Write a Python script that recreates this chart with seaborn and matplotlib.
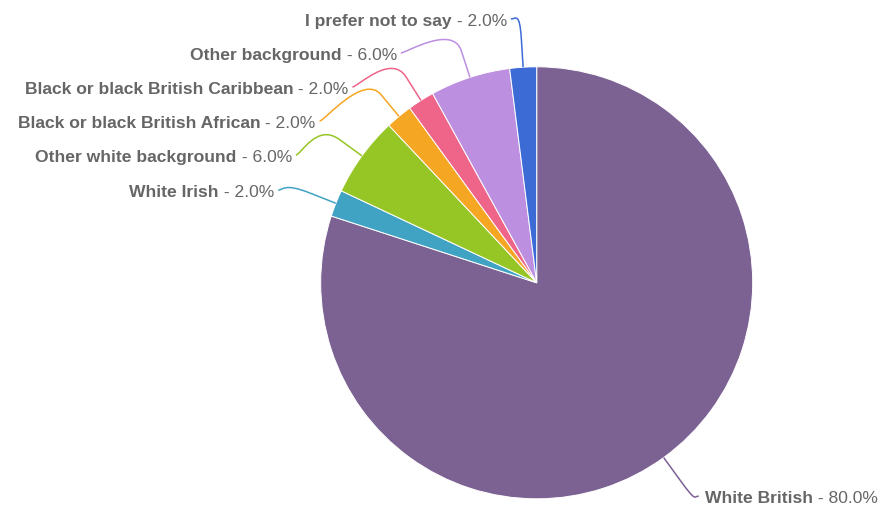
import numpy as np
import matplotlib.pyplot as plt
import seaborn as sns
from matplotlib.path import Path
from matplotlib.patches import PathPatch

categories = ["White British", "White Irish", "Other white background",
              "Black or black British African", "Black or black British Caribbean",
              "Other background", "I prefer not to say"]
shares = [80.0, 2.0, 6.0, 2.0, 2.0, 6.0, 2.0]
slice_colors = ["#7c6193", "#41a3c3", "#95c626", "#f5a623",
                "#ee6589", "#bc8fe0", "#3d6bd6"]

sns.set_theme(style="white")
plt.rcParams["font.family"] = ["Liberation Sans", "DejaVu Sans"]

fig = plt.figure(figsize=(8.9, 5.1), dpi=100)
ax = fig.add_axes([0, 0, 1, 1])

# pie geometry in pixel units (y axis points down)
cx, cy, r = 536.7, 283.8, 216
wedges, _ = ax.pie(shares, colors=sns.color_palette(slice_colors),
                   center=(cx, cy), radius=r, startangle=-90, counterclock=True,
                   wedgeprops=dict(edgecolor="white", linewidth=0.7))
ax.set_xlim(0, 890)
ax.set_ylim(510, 0)
ax.set_aspect("equal")
ax.axis("off")

renderer = fig.canvas.get_renderer()
text_color = "#666666"
fs = 12.6
row = 34          # vertical room per label
r_nat = r + 44    # where labels would like to sit
r_lab = 280       # labels keep their outer corner on this circle
r_break = r + 28  # connector bend


def distribute(targets, lo=0, hi=520):
    # stack labels with no overlap, clusters centred on their targets
    order = np.argsort(targets)
    groups = [[i] for i in order]
    merged = True
    tops = []
    while merged:
        merged = False
        tops = [np.mean([targets[i] for i in g]) - len(g) * row / 2 for g in groups]
        for k in range(len(groups) - 1):
            if tops[k] + len(groups[k]) * row > tops[k + 1]:
                groups[k] = groups[k] + groups.pop(k + 1)
                merged = True
                break
    out = {}
    for g, t in zip(groups, tops):
        t = min(max(t, lo), hi - len(g) * row)
        for j, i in enumerate(g):
            out[i] = t + j * row + row / 2 + 3
    return out


mids = [np.deg2rad((w.theta1 + w.theta2) / 2) for w in wedges]
sides = {"left": [], "right": []}
for i, a in enumerate(mids):
    sides["left" if np.cos(a) < 0 else "right"].append(i)

for side, idx in sides.items():
    sgn = -1 if side == "left" else 1
    targets = [cy + r_nat * np.sin(mids[i]) for i in idx]
    ys = distribute(targets)
    for k, i in enumerate(idx):
        a = mids[i]
        y = ys[k]
        y_corner = y - 15 if y < cy else y + 15
        dx = np.sqrt(max(r_lab ** 2 - (y_corner - cy) ** 2, 0))
        lx = cx + sgn * dx

        # soft connector: label -> bend point -> slice edge
        touch = (cx + r * np.cos(a), cy + r * np.sin(a))
        brk = (cx + r_break * np.cos(a), cy + r_break * np.sin(a))
        verts = [(lx, y), (lx - 5 * sgn, y),
                 (2 * brk[0] - touch[0], 2 * brk[1] - touch[1]), brk, touch]
        codes = [Path.MOVETO, Path.CURVE4, Path.CURVE4, Path.CURVE4, Path.LINETO]
        ax.add_patch(PathPatch(Path(verts, codes), fill=False,
                               edgecolor=slice_colors[i], linewidth=1.1))

        pct = f" - {shares[i]:.1f}%"
        if side == "left":
            t = ax.text(lx - 4, y + 6, pct, ha="right", va="baseline",
                        fontsize=fs, color=text_color)
            x0 = t.get_window_extent(renderer).x0
            ax.text(x0, y + 6, categories[i], ha="right", va="baseline",
                    fontsize=fs, fontweight="bold", color=text_color)
        else:
            t = ax.text(lx + 6, y + 6, categories[i], ha="left", va="baseline",
                        fontsize=fs, fontweight="bold", color=text_color)
            x1 = t.get_window_extent(renderer).x1
            ax.text(x1, y + 6, pct, ha="left", va="baseline",
                    fontsize=fs, color=text_color)

fig.savefig("out.png", dpi=100)
